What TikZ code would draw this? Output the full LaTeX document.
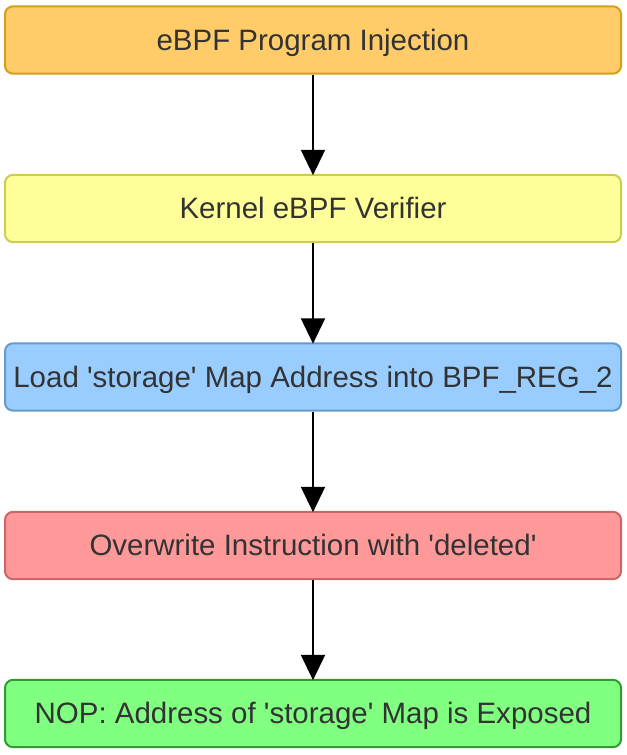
\documentclass[tikz,border=0pt]{standalone}
\usepackage{fontspec}
\setmainfont{Liberation Sans}
\usetikzlibrary{arrows.meta}
\definecolor{txt}{HTML}{333333}
\definecolor{f1}{HTML}{FFCC69}\definecolor{d1}{HTML}{D4A017}
\definecolor{f2}{HTML}{FFFF99}\definecolor{d2}{HTML}{CCCC55}
\definecolor{f3}{HTML}{99CCFF}\definecolor{d3}{HTML}{6699CC}
\definecolor{f4}{HTML}{FF9999}\definecolor{d4}{HTML}{CC6666}
\definecolor{f5}{HTML}{80FF80}\definecolor{d5}{HTML}{339933}
\newcommand\sq{\textquotesingle}
\tikzset{
  box/.style={draw, line width=1.5pt, rounded corners=6pt, minimum width=462pt, minimum height=50.5pt, inner sep=0pt, text=txt, text height=18pt, text depth=2.5pt, font=\fontsize{22.1pt}{26pt}\selectfont},
  conn/.style={line width=1.5pt, -{Triangle[length=19pt,width=18pt]}, shorten >=-1pt}
}
\begin{document}
\begin{tikzpicture}[x=0.75pt,y=-0.75pt]
\useasboundingbox (0,0) rectangle (626,755);
\node[box, fill=f1, draw=d1] (a) at (313,40) {eBPF Program Injection};
\node[box, fill=f2, draw=d2] (b) at (313,208.5) {Kernel eBPF Verifier};
\node[box, fill=f3, draw=d3] (c) at (313,377) {Load \sq storage\sq{} Map Address into BPF\_REG\_2};
\node[box, fill=f4, draw=d4] (d) at (313,545.5) {Overwrite Instruction with \sq deleted\sq};
\node[box, fill=f5, draw=d5] (e) at (313,713.5) {NOP: Address of \sq storage\sq{} Map is Exposed};
\draw[conn] (a) -- (b);
\draw[conn] (b) -- (c);
\draw[conn] (c) -- (d);
\draw[conn] (d) -- (e);
\end{tikzpicture}
\end{document}
